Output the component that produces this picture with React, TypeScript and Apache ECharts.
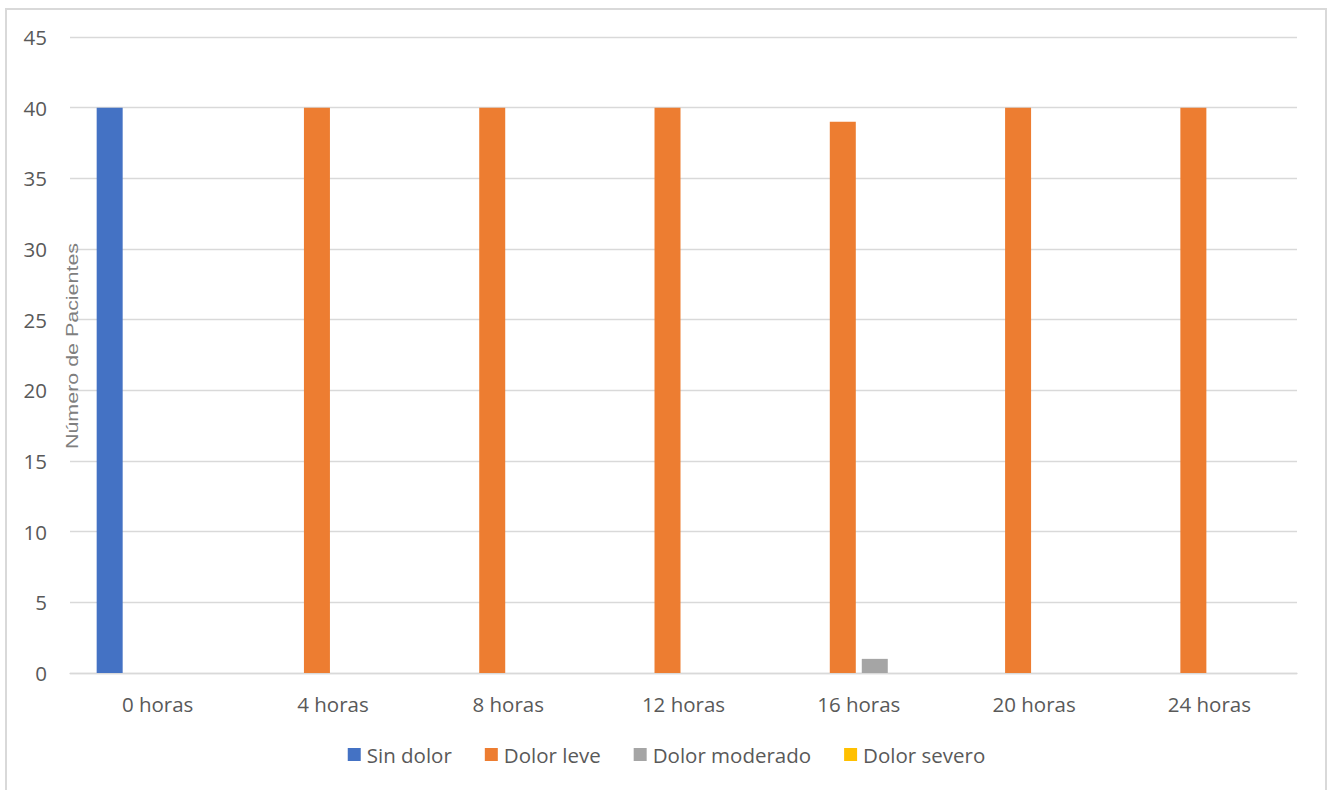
import React, { useEffect, useRef } from "react";
import * as echarts from "echarts";

const categories = ["0 horas", "4 horas", "8 horas", "12 horas", "16 horas", "20 horas", "24 horas"];
const sinDolor = [40, 0, 0, 0, 0, 0, 0];
const dolorLeve = [0, 40, 40, 40, 39, 40, 40];
const dolorModerado = [0, 0, 0, 0, 1, 0, 0];
const dolorSevero = [0, 0, 0, 0, 0, 0, 0];

const seriesNames = ["Sin dolor", "Dolor leve", "Dolor moderado", "Dolor severo"];
const seriesColors = ["#4472C4", "#ED7D31", "#A5A5A5", "#FFC000"];
const seriesData = [sinDolor, dolorLeve, dolorModerado, dolorSevero];

const yAxisTitle = "Número de Pacientes";
const FONT = "'Open Sans', 'Noto Sans', sans-serif";

export default function App() {
  const ref = useRef<HTMLDivElement>(null);

  useEffect(() => {
    if (!ref.current) return;
    const chart = echarts.init(ref.current, undefined, { renderer: "svg" });
    chart.setOption({
      animation: false,
      backgroundColor: "#ffffff",
      textStyle: { fontFamily: FONT },
      grid: { left: 70, right: 36, top: 37, bottom: 117, containLabel: false },
      legend: {
        bottom: 20,
        left: "center",
        itemWidth: 13,
        itemHeight: 13,
        itemGap: 33,
        icon: "rect",
        textStyle: { fontFamily: FONT, fontSize: 20.5, color: "#595959", padding: [0, 0, 0, 1] },
        data: seriesNames,
      },
      xAxis: {
        type: "category",
        data: categories,
        axisTick: { show: false },
        axisLine: { lineStyle: { color: "#d9d9d9", width: 1.3 } },
        axisLabel: { fontFamily: FONT, fontSize: 20.5, color: "#595959", margin: 20 },
      },
      yAxis: {
        type: "value",
        min: 0,
        max: 45,
        interval: 5,
        axisLine: { show: false },
        axisTick: { show: false },
        splitLine: { lineStyle: { color: "#d9d9d9", width: 1.3 } },
        axisLabel: { fontFamily: FONT, fontSize: 20.5, color: "#595959", margin: 23 },
      },
      series: seriesNames.map((name, i) => ({
        name,
        type: "bar",
        data: seriesData[i],
        barWidth: 26,
        barGap: "23%",
        itemStyle: { color: seriesColors[i] },
      })),
      graphic: [
        {
          type: "rect",
          silent: true,
          shape: { x: 6, y: 9, width: 1320, height: 820 },
          style: { fill: "none", stroke: "#d9d9d9", lineWidth: 2 },
          z: -1,
        },
        {
          type: "text",
          silent: true,
          x: 73,
          y: 346,
          rotation: Math.PI / 2,
          scaleX: 1.34,
          style: {
            text: yAxisTitle,
            fontFamily: "'Liberation Sans', Arial, sans-serif",
            fontSize: 16,
            fill: "#7f7f7f",
            textAlign: "center",
            textVerticalAlign: "middle",
          },
          z: 10,
        },
      ],
    });
    return () => chart.dispose();
  }, []);

  return (
    <div
      ref={ref}
      style={{ position: "fixed", left: 0, top: 0, width: 1333, height: 790, background: "#fff" }}
    />
  );
}
